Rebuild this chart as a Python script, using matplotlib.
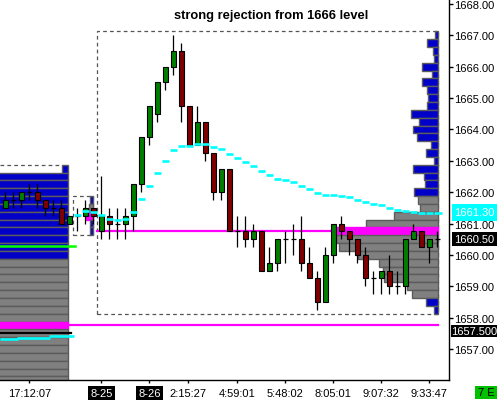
import matplotlib
matplotlib.use('Agg')
import matplotlib.pyplot as plt
from matplotlib.patches import Rectangle

plt.rcParams['font.family'] = ['Liberation Sans', 'DejaVu Sans']

# ---------------- data ----------------
opens = [1661.5, 1661.75, 1661.75, 1662.0, 1662.0, 1661.75, 1661.5, 1661.5, 1661.0, 1661.25,
         1661.25, 1661.5, 1660.75, 1661.25, 1661.0, 1661.0, 1661.25, 1662.25, 1663.75, 1664.5,
         1665.5, 1666.0, 1666.5, 1664.75, 1663.5, 1664.25, 1663.25, 1662.0, 1662.75, 1660.75,
         1660.75, 1660.5, 1660.75, 1659.5, 1659.75, 1660.5, 1660.5, 1660.5, 1659.75, 1659.25,
         1658.5, 1660.0, 1661.0, 1660.75, 1660.5, 1660.0, 1659.25, 1659.25, 1659.5, 1659.0,
         1659.0, 1660.5, 1660.75, 1660.25, 1660.5]
highs = [1662.0, 1662.0, 1662.0, 1662.25, 1662.25, 1661.75, 1661.75, 1661.75, 1661.25, 1661.5,
         1661.75, 1661.5, 1662.5, 1661.5, 1661.5, 1661.5, 1662.25, 1663.75, 1664.75, 1665.5,
         1666.0, 1667.0, 1666.75, 1664.75, 1664.75, 1664.25, 1663.25, 1662.75, 1662.75, 1661.25,
         1661.25, 1661.0, 1660.75, 1660.25, 1660.5, 1660.75, 1661.0, 1661.25, 1660.25, 1659.5,
         1660.25, 1661.0, 1661.25, 1660.75, 1660.5, 1660.25, 1659.5, 1659.5, 1660.0, 1659.5,
         1660.5, 1661.0, 1660.75, 1660.5, 1660.75]
lows = [1661.5, 1661.5, 1661.5, 1661.75, 1661.5, 1661.25, 1661.25, 1661.0, 1661.0, 1660.75,
        1661.0, 1661.0, 1660.5, 1660.5, 1660.5, 1660.5, 1660.75, 1662.0, 1663.5, 1664.25,
        1665.25, 1665.75, 1664.25, 1663.5, 1663.5, 1663.0, 1661.75, 1661.75, 1660.75, 1660.25,
        1660.25, 1660.25, 1659.5, 1659.5, 1659.5, 1659.75, 1660.0, 1659.5, 1659.25, 1658.25,
        1658.5, 1659.75, 1660.5, 1660.0, 1659.75, 1659.0, 1658.75, 1658.75, 1658.75, 1658.75,
        1658.75, 1660.5, 1660.25, 1659.75, 1660.25]
closes = [1661.75, 1661.75, 1662.0, 1662.0, 1661.75, 1661.5, 1661.5, 1661.0, 1661.25, 1661.25,
          1661.5, 1661.25, 1661.25, 1661.0, 1661.0, 1661.25, 1662.25, 1663.75, 1664.75, 1665.5,
          1666.0, 1666.5, 1664.75, 1663.5, 1664.25, 1663.25, 1662.0, 1662.75, 1660.75, 1660.75,
          1660.5, 1660.75, 1659.5, 1659.75, 1660.5, 1660.5, 1660.5, 1659.75, 1659.25, 1658.5,
          1660.0, 1661.0, 1660.75, 1660.5, 1660.0, 1659.25, 1659.25, 1659.5, 1659.0, 1659.0,
          1660.5, 1660.75, 1660.25, 1660.5, 1660.5]

# session VWAP (bars 9..54)
vwap_start = 9
vwap = [1661.27, 1661.41, 1661.38, 1661.28, 1661.16, 1661.12, 1661.16, 1661.38, 1661.78, 1662.21,
        1662.61, 1662.99, 1663.35, 1663.48, 1663.48, 1663.55, 1663.55, 1663.45, 1663.38, 1663.22,
        1663.09, 1662.96, 1662.84, 1662.68, 1662.55, 1662.42, 1662.39, 1662.34, 1662.21, 1662.10,
        1661.97, 1661.92, 1661.91, 1661.87, 1661.83, 1661.75, 1661.70, 1661.61, 1661.58, 1661.48,
        1661.42, 1661.40, 1661.38, 1661.35, 1661.35, 1661.35]
# prior-session VWAP (bars 0..8)
prev_vwap = [1657.33, 1657.33, 1657.36, 1657.36, 1657.36, 1657.36, 1657.40, 1657.40, 1657.40]

# current session volume profile
prof_prices = [1667.0, 1666.75, 1666.5, 1666.25, 1666.0, 1665.75, 1665.5, 1665.25, 1665.0, 1664.75,
               1664.5, 1664.25, 1664.0, 1663.75, 1663.5, 1663.25, 1663.0, 1662.75, 1662.5, 1662.25,
               1662.0, 1661.75, 1661.5, 1661.25, 1661.0, 1660.75, 1660.5, 1660.25, 1660.0, 1659.75,
               1659.5, 1659.25, 1659.0, 1658.75, 1658.5, 1658.25]
prof_vol = [3, 11, 5, 4, 16, 6, 16, 11, 10, 11,
            27, 19, 25, 21, 7, 12, 4, 25, 14, 13,
            24, 20, 18, 44, 72, 102, 102, 99, 80, 59,
            55, 54, 31, 26, 12, 4]
poc, va_high, va_low = 1660.75, 1661.75, 1658.75

# previous session profile (extends beyond the left edge)
prev_prices = [1662.75, 1662.5, 1662.25, 1662.0, 1661.75, 1661.5, 1661.25, 1661.0, 1660.75, 1660.5,
               1660.25, 1660.0, 1659.75, 1659.5, 1659.25, 1659.0, 1658.75, 1658.5, 1658.25, 1658.0,
               1657.75, 1657.5, 1657.25, 1657.0, 1656.75, 1656.5, 1656.25, 1656.0, 1655.75]
prev_vol = [6] + [90] * 28
prev_poc, prev_va_high = 1657.75, 1659.75

# tiny session profile
mini_prices = [1661.75, 1661.5, 1661.25, 1661.0, 1660.75]
mini_vol = [2.5, 3.5, 7, 2.5, 2.5]
mini_poc, mini_va = 1661.25, (1661.5, 1661.25)

levels = {'poc_line': 1660.75, 'prev_poc_line': 1657.75, 'settle': 1657.5, 'green': 1660.27}

y_ticks = [1657, 1658, 1659, 1660, 1661, 1662, 1663, 1664, 1665, 1666, 1667, 1668]
x_tick_pos = [3, 12, 18, 22.85, 29, 35, 41, 47, 53]
x_tick_lbl = ['17:12:07', '8-25', '8-26', '2:15:27', '4:59:01', '5:48:02', '8:05:01', '9:07:32', '9:33:47']

# ---------------- figure ----------------
W, H = 498, 402
fig = plt.figure(figsize=(W / 100, H / 100), dpi=100)
ax = fig.add_axes([0, 21 / H, 449 / W, 381 / H])
ax.set_xlim(-0.6625, 55.4625)
ax.set_ylim(1656.01, 1668.16)

BLUE = '#0000C8'
GRAY = '#808080'
EDGE = '#5C5C5C'
MAG = '#FF00FF'
CYAN = '#00FFFF'
VOL_SCALE = 1 / 8.0

def draw_profile(prices, vols, right, poc_p, va_hi, va_lo, z=2):
    for p, v in zip(prices, vols):
        w = v * VOL_SCALE
        if p == poc_p:
            col = MAG
            ec = MAG
        elif va_lo <= p <= va_hi:
            col = GRAY
            ec = EDGE
        else:
            col = BLUE
            ec = EDGE
        ax.add_patch(Rectangle((right - w, p - 0.125), w, 0.25, facecolor=col,
                               edgecolor=ec, lw=1.0, zorder=z))

# previous session profile
draw_profile(prev_prices, prev_vol, 7.84, prev_poc, prev_va_high, 1600, z=2)
ax.plot([-0.7, 7.1], [1662.875, 1662.875], color='#555555', lw=0.9, ls=(0, (3, 2.5)), zorder=1)

# current profile
draw_profile(prof_prices, prof_vol, 54.03, poc, va_high, va_low, z=2)

# mini profile
draw_profile(mini_prices, mini_vol, 10.9, mini_poc, mini_va[0], mini_va[1], z=2)

# dashed rectangles
ax.add_patch(Rectangle((11.5, 1658.125), 54.03 - 11.5, 1667.125 - 1658.125, fill=False,
                       edgecolor='#555555', lw=0.9, ls=(0, (3, 2.5)), zorder=1))
ax.add_patch(Rectangle((8.5, 1660.625), 10.9 - 8.5, 1661.875 - 1660.625, fill=False,
                       edgecolor='#555555', lw=0.9, ls=(0, (3, 2.5)), zorder=1))

# level lines
ax.plot([11.5, 54.03], [levels['poc_line']] * 2, color=MAG, lw=1.6, zorder=3)
ax.plot([7.84, 54.03], [levels['prev_poc_line']] * 2, color=MAG, lw=1.6, zorder=3)
ax.plot([-0.7, 8.2], [levels['settle']] * 2, color='black', lw=1.6, zorder=3)
ax.plot([-0.7, 8.7], [levels['green']] * 2, color='#00FF00', lw=1.8, zorder=3)

# candles
for i, (o, h, l, c) in enumerate(zip(opens, highs, lows, closes)):
    ax.plot([i, i], [l, h], color='black', lw=0.9, zorder=5, solid_capstyle='butt')
    if c > o:
        ax.add_patch(Rectangle((i - 0.28, o), 0.56, c - o, facecolor='#008000',
                               edgecolor='black', lw=0.8, zorder=6))
    elif c < o:
        ax.add_patch(Rectangle((i - 0.28, c), 0.56, o - c, facecolor='#800000',
                               edgecolor='black', lw=0.8, zorder=6))
    else:
        ax.plot([i - 0.33, i + 0.33], [c, c], color='black', lw=0.9, zorder=6,
                solid_capstyle='butt')

# VWAP steps
for k, v in enumerate(vwap):
    i = vwap_start + k
    right = i + 0.6 if k == len(vwap) - 1 else i + 0.47
    ax.plot([i - 0.47, right], [v, v], color=CYAN, lw=1.9, zorder=7, solid_capstyle='butt')
prev_segments = [(0, 1), (2, 5), (6, 8)]
for a, b in prev_segments:
    ax.plot([a - 0.66 if a == 0 else a - 0.5, b + 0.6 if b == 8 else b + 0.55],
            [prev_vwap[a]] * 2, color=CYAN, lw=1.9, zorder=7, solid_capstyle='butt')

# axes styling
for s in ['left', 'top']:
    ax.spines[s].set_visible(False)
ax.spines['right'].set_linewidth(1.0)
ax.spines['bottom'].set_linewidth(1.0)
ax.yaxis.tick_right()
ax.set_yticks(y_ticks)
ax.set_yticklabels([f'{v:.2f}' for v in y_ticks])
ax.tick_params(axis='y', length=3, width=1, pad=0.8, labelsize=8)
ax.set_xticks(x_tick_pos)
ax.set_xticklabels(x_tick_lbl)
ax.tick_params(axis='x', length=2.5, width=1, pad=3.2, labelsize=8)
for t in ax.get_xticklabels():
    if t.get_text() in ('8-25', '8-26'):
        t.set_color('white')
        t.set_bbox(dict(facecolor='black', edgecolor='none', pad=1.6))

# title
fig.text(270.8 / W, 1 - 15.8 / H, 'strong rejection from 1666 level', ha='center', va='center',
         fontsize=9.3, fontweight='bold')

# price boxes on the right
def price_box(x0, x1, y0, y1, text, fc, tc):
    fig.patches.append(Rectangle((x0 / W, 1 - y1 / H), (x1 - x0) / W, (y1 - y0) / H,
                                 transform=fig.transFigure, facecolor=fc, edgecolor='none',
                                 zorder=5))
    fig.text((x0 + x1) / 2 / W, 1 - (y0 + y1) / 2 / H, text, ha='center', va='center',
             fontsize=8, color=tc, zorder=6)

price_box(451.7, 497, 205, 221.7, f'{vwap[-1] - 0.05:.2f}', CYAN, 'white')
price_box(451.7, 497, 233.3, 246.7, f'{closes[-1]:.2f}', 'black', 'white')
price_box(450.7, 497, 326, 338.3, f"{levels['settle']:.3f}", 'black', 'white')
price_box(475, 496.7, 386.7, 400, '7 E', '#00C000', 'black')

fig.savefig('out.png', dpi=100, facecolor='white')
